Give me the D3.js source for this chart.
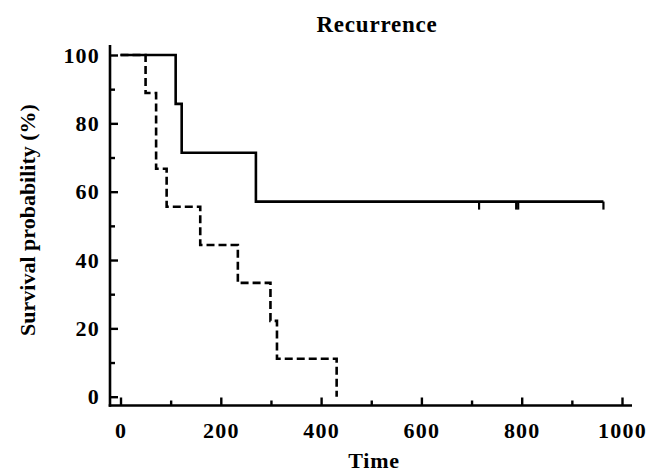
<!DOCTYPE html>
<html>
<head>
<meta charset="utf-8">
<script src="https://cdn.jsdelivr.net/npm/d3@7"></script>
<style>
  html, body { margin: 0; padding: 0; background: #fff; }
  svg text { font-family: 'Liberation Serif', 'Times New Roman', serif; font-weight: bold; fill: #000; }
</style>
</head>
<body>
<svg id="chart" width="658" height="472"></svg>
<script>
// Kaplan-Meier steps
const solidTimes = [0, 110, 122, 270, 963]
const solidSurv = [100, 85.7, 71.4, 57.1, 57.1]
const solidCensor = [715, 789, 793, 963]

const dashedTimes = [0, 50, 71, 92, 159, 234, 299, 312, 431]
const dashedSurv = [100, 88.9, 66.7, 55.6, 44.4, 33.3, 22.2, 11.1, 0]

const xTicks = [0, 200, 400, 600, 800, 1000]
const xMinor = [100, 300, 500, 700, 900]
const yTicks = [0, 20, 40, 60, 80, 100]
const yMinor = [10, 30, 50, 70, 90]

const svg = d3.select('#chart')

const axisX = 110
const axisY = 405.5

const x = d3.scaleLinear().domain([0, 1000]).range([120.5, 622])
const y = d3.scaleLinear().domain([0, 100]).range([396.7, 55])

svg.append('text')
  .attr('x', 377)
  .attr('y', 31.5)
  .attr('text-anchor', 'middle')
  .attr('font-size', 23)
  .attr('letter-spacing', 0.8)
  .text('Recurrence')

// axes (ticks point inward)
const gx = svg.append('g').attr('transform', `translate(0,${axisY})`)
gx.call(d3.axisBottom(x).tickValues(xTicks).tickFormat(d3.format('d')).tickSize(-8).tickPadding(17).tickSizeOuter(0))
gx.append('g').call(d3.axisBottom(x).tickValues(xMinor).tickSize(-5).tickFormat('').tickSizeOuter(0))

const gy = svg.append('g').attr('transform', `translate(${axisX},0)`)
gy.call(d3.axisLeft(y).tickValues(yTicks).tickSize(-8).tickPadding(10).tickSizeOuter(0))
gy.append('g').call(d3.axisLeft(y).tickValues(yMinor).tickSize(-5).tickFormat('').tickSizeOuter(0))

svg.selectAll('.domain').remove()
svg.selectAll('.tick line').attr('stroke', '#000').attr('stroke-width', 2.4)
svg.selectAll('.tick text').attr('font-size', 22).attr('letter-spacing', 1.2)

// axis lines
svg.append('line')
  .attr('x1', axisX).attr('x2', axisX)
  .attr('y1', 45).attr('y2', axisY + 1.3)
  .attr('stroke', '#000').attr('stroke-width', 2.6)
svg.append('line')
  .attr('x1', axisX - 1.3).attr('x2', 632)
  .attr('y1', axisY).attr('y2', axisY)
  .attr('stroke', '#000').attr('stroke-width', 2.6)

const step = d3.line()
  .x(d => x(d[0]))
  .y(d => y(d[1]))
  .curve(d3.curveStepAfter)

const dashedPts = dashedTimes.map((t, i) => [t, dashedSurv[i]])
svg.append('path')
  .datum(dashedPts)
  .attr('d', step)
  .attr('fill', 'none')
  .attr('stroke', '#000')
  .attr('stroke-width', 2.6)
  .attr('stroke-dasharray', '8,4')

const solidPts = solidTimes.map((t, i) => [t, solidSurv[i]])
svg.append('path')
  .datum(solidPts)
  .attr('d', step)
  .attr('fill', 'none')
  .attr('stroke', '#000')
  .attr('stroke-width', 2.6)

// censor marks hang below the line
const survAt = d => {
  let s = solidSurv[0]
  solidTimes.forEach((t, i) => { if (t <= d) s = solidSurv[i] })
  return s
}
svg.append('g').selectAll('line')
  .data(solidCensor)
  .enter()
  .append('line')
  .attr('x1', d => x(d))
  .attr('x2', d => x(d))
  .attr('y1', d => y(survAt(d)))
  .attr('y2', d => y(survAt(d)) + 8)
  .attr('stroke', '#000')
  .attr('stroke-width', 2.2)

svg.append('text')
  .attr('x', 374)
  .attr('y', 468)
  .attr('text-anchor', 'middle')
  .attr('font-size', 22)
  .attr('letter-spacing', 0.8)
  .text('Time')

svg.append('text')
  .attr('transform', 'translate(35,220) rotate(-90)')
  .attr('text-anchor', 'middle')
  .attr('font-size', 22)
  .text('Survival probability (%)')
</script>
</body>
</html>
